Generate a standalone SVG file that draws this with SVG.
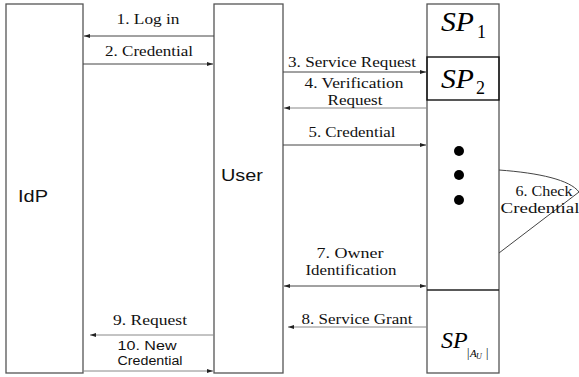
<svg xmlns="http://www.w3.org/2000/svg" width="579" height="377" viewBox="0 0 579 377">
<style>
.box{fill:#fff;stroke:#555;stroke-width:1.3}
.div{stroke:#222;stroke-width:1.3;fill:none}
.ln{stroke:#444;stroke-width:1;fill:none}
.lt{stroke:#888;stroke-width:1;fill:none}
.t{font-family:'Liberation Serif','Times New Roman',Times,serif;font-size:15px;fill:#111;text-anchor:middle}
.s{font-family:'Liberation Sans',Arial,sans-serif;fill:#111}
.sp{font-family:'Liberation Serif','Times New Roman',Times,serif;font-style:italic;fill:#000}
.sub{font-family:'Liberation Serif','Times New Roman',Times,serif;fill:#000}
</style>
<defs>
<marker id="ah" markerWidth="6" markerHeight="4" refX="6" refY="2" orient="auto-start-reverse" markerUnits="userSpaceOnUse">
<path d="M0,0 L6,2 L0,4 Z" fill="#222"/>
</marker>
</defs>
<g id="idp">
<rect class="box" x="6" y="4" width="77" height="369"/>
<text class="s" x="18" y="202" font-size="16.5" textLength="30" lengthAdjust="spacingAndGlyphs">IdP</text>
</g>
<g id="user">
<rect class="box" x="214" y="4" width="69" height="369"/>
<text class="s" x="221" y="181" font-size="16.5" textLength="42" lengthAdjust="spacingAndGlyphs">User</text>
</g>
<g id="sp">
<rect class="box" x="427" y="4" width="72" height="369"/>
<line class="div" x1="427" y1="290" x2="499" y2="290"/>
<circle cx="459" cy="151" r="5" fill="#000"/>
<circle cx="459" cy="175" r="5" fill="#000"/>
<circle cx="459" cy="200" r="5" fill="#000"/>
</g>
<g id="sp1">
<text class="sp" x="441" y="31" font-size="28" textLength="33" lengthAdjust="spacingAndGlyphs">SP</text>
<text class="sub" x="477" y="38" font-size="18">1</text>
</g>
<g id="sp2">
<rect x="427" y="57" width="72" height="43" fill="none" stroke="#111" stroke-width="1.4"/>
<text class="sp" x="441" y="88" font-size="28" textLength="33" lengthAdjust="spacingAndGlyphs">SP</text>
<text class="sub" x="476" y="94" font-size="18">2</text>
</g>
<g id="spau">
<text class="sp" x="441" y="348" font-size="24">SP</text>
<text class="sub" x="467" y="357" font-size="12">|</text>
<text class="sp" x="470" y="357" font-size="11">A</text>
<text class="sp" x="476" y="359" font-size="8">U</text>
<text class="sub" x="486" y="357" font-size="12">|</text>
</g>
<g id="connectors">
<line class="ln" x1="214" y1="36" x2="84" y2="36" marker-end="url(#ah)"/>
<line class="ln" x1="83" y1="64" x2="213" y2="64" marker-end="url(#ah)"/>
<line class="ln" x1="283" y1="72" x2="426" y2="72" marker-end="url(#ah)"/>
<line class="lt" x1="427" y1="108" x2="284" y2="108" marker-end="url(#ah)"/>
<line class="ln" x1="283" y1="145" x2="426" y2="145" marker-end="url(#ah)"/>
<path class="ln" d="M499,170 C540,173 570,180 579,192 L499,253"/>
<line class="ln" x1="284" y1="286" x2="426" y2="286" marker-start="url(#ah)" marker-end="url(#ah)"/>
<line class="lt" x1="427" y1="327" x2="288" y2="327" marker-end="url(#ah)"/>
<line class="lt" x1="214" y1="335" x2="90" y2="335" marker-end="url(#ah)"/>
<line class="lt" x1="83" y1="371" x2="213" y2="371" marker-end="url(#ah)"/>
</g>
<g id="labels">
<text class="t" x="148" y="24" textLength="63" lengthAdjust="spacingAndGlyphs">1. Log in</text>
<text class="t" x="149" y="56" textLength="88" lengthAdjust="spacingAndGlyphs">2. Credential</text>
<text class="t" x="352" y="67" textLength="128" lengthAdjust="spacingAndGlyphs">3. Service Request</text>
<text class="t" x="354" y="88" textLength="99" lengthAdjust="spacingAndGlyphs">4. Verification</text>
<text class="t" x="355" y="105" textLength="55" lengthAdjust="spacingAndGlyphs">Request</text>
<text class="t" x="352" y="137" textLength="87" lengthAdjust="spacingAndGlyphs">5. Credential</text>
<text class="t" x="544" y="196" textLength="57" lengthAdjust="spacingAndGlyphs">6. Check</text>
<text class="t" x="540" y="213" textLength="79" lengthAdjust="spacingAndGlyphs">Credential</text>
<text class="t" x="350" y="258" textLength="67" lengthAdjust="spacingAndGlyphs">7. Owner</text>
<text class="t" x="351" y="275" textLength="91" lengthAdjust="spacingAndGlyphs">Identification</text>
<text class="t" x="357" y="324" textLength="111" lengthAdjust="spacingAndGlyphs">8. Service Grant</text>
<text class="t" x="150" y="325" textLength="74" lengthAdjust="spacingAndGlyphs">9. Request</text>
<text class="s" x="147" y="350" font-size="12.5" text-anchor="middle" textLength="59" lengthAdjust="spacingAndGlyphs">10. New</text>
<text class="s" x="150" y="365" font-size="12.5" text-anchor="middle" textLength="65" lengthAdjust="spacingAndGlyphs">Credential</text>
</g>
</svg>
